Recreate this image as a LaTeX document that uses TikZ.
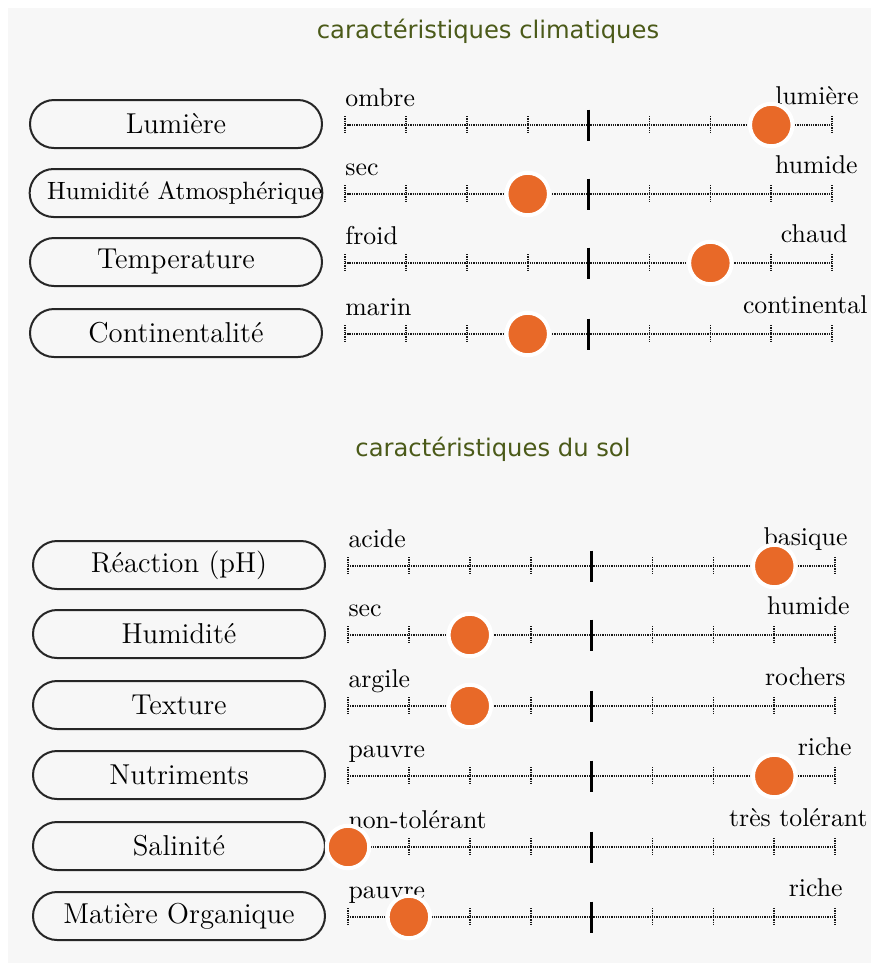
\documentclass[tikz,border=0pt]{standalone}
\usepackage{fontspec}
\newfontfamily\titlefont{DejaVu Sans}
\usetikzlibrary{calc}
\definecolor{dotorange}{RGB}{232,105,40}
\definecolor{titlegreen}{RGB}{75,90,25}
\definecolor{bggray}{RGB}{247,247,247}
\tikzset{
  crit-box/.style={
    draw=black!85,
    line width=0.8pt,
    rounded corners=9.6pt,
    minimum width=116.8pt,
    minimum height=19.2pt,
    inner sep=0pt,
    font=\fontsize{11.5}{13}\selectfont
  },
  scale-line/.style={line width=0.7pt, black!90, dash pattern=on 0.5pt off 0.4pt},
  tick-minor/.style={line width=0.7pt, black!90, dash pattern=on 0.5pt off 0.4pt},
  tick-mid/.style={line width=0.9pt, black},
  end-label/.style={inner sep=0pt, font=\fontsize{10.3}{12}\selectfont},
  marker/.style={circle, fill=dotorange, draw=white, line width=1.6pt, minimum size=17pt, inner sep=0pt},
  section-title/.style={text=titlegreen, font=\titlefont\fontsize{9.7}{12}\selectfont}
}
% #1 name, #2 box left, #3 row y, #4 box text, #5 low end, #6 high end, #7 high end right x, #8 marker tick
\newcommand{\critere}[8]{
  \node[crit-box] (#1) at (#2+146,#3) {#4};
  \coordinate (#1-s) at (#2+315,#3+1);
  \coordinate (#1-e) at (#2+802,#3+1);
  \draw[scale-line] (#1-s) -- (#1-e);
  \foreach \i in {0,1,2,3,5,6,7,8} {
    \draw[tick-minor] ($(#1-s)+(\i*60.9,-9)$) -- ++(0,18);
  }
  \draw[tick-mid] ($(#1-s)+(4*60.9,-15.5)$) -- ++(0,31);
  \node[end-label, anchor=base west] (#1-lo) at ($(#1-s)+(0,-19)$) {#5};
  \node[end-label, anchor=base east] (#1-hi) at (#7,#3-20) {#6};
  \node[marker] (#1-dot) at ($(#1-s)+(#8*60.9,0)$) {};
}

\begin{document}
\begin{tikzpicture}[x=0.4pt, y=-0.4pt]
  \useasboundingbox (0,0) rectangle (871,963);
  \fill[bggray] (8,8) rectangle (871,963);

  % Climat
  \node[section-title] (titre-climat) at (488,31) {caractéristiques climatiques};
  \critere{lumiere}{30}{124}{Lumière}{ombre}{lumière}{859}{7}
  \critere{humatm}{30}{193}{\hspace*{7pt}\fontsize{10}{12}\selectfont Humidité Atmosphérique}{sec}{humide}{858}{3}
  \critere{temp}{30}{262}{Temperature}{froid}{chaud}{848}{6}
  \critere{cont}{30}{333}{Continentalité}{marin}{continental}{868}{3}

  % Sol
  \node[section-title] (titre-sol) at (493,449) {caractéristiques du sol};
  \critere{ph}{33}{565}{Réaction (pH)}{acide}{basique}{848}{7}
  \critere{humsol}{33}{634}{Humidité}{sec}{humide}{850}{2}
  \critere{texture}{33}{705}{Texture}{argile}{rochers}{846}{2}
  \critere{nutri}{33}{775}{Nutriments}{pauvre}{riche}{852}{7}
  \critere{sal}{33}{846}{Salinité}{non-tolérant}{très tolérant}{868}{0}
  \critere{mo}{33}{916}{Matière Organique}{pauvre}{riche}{843}{1}
\end{tikzpicture}
\end{document}
